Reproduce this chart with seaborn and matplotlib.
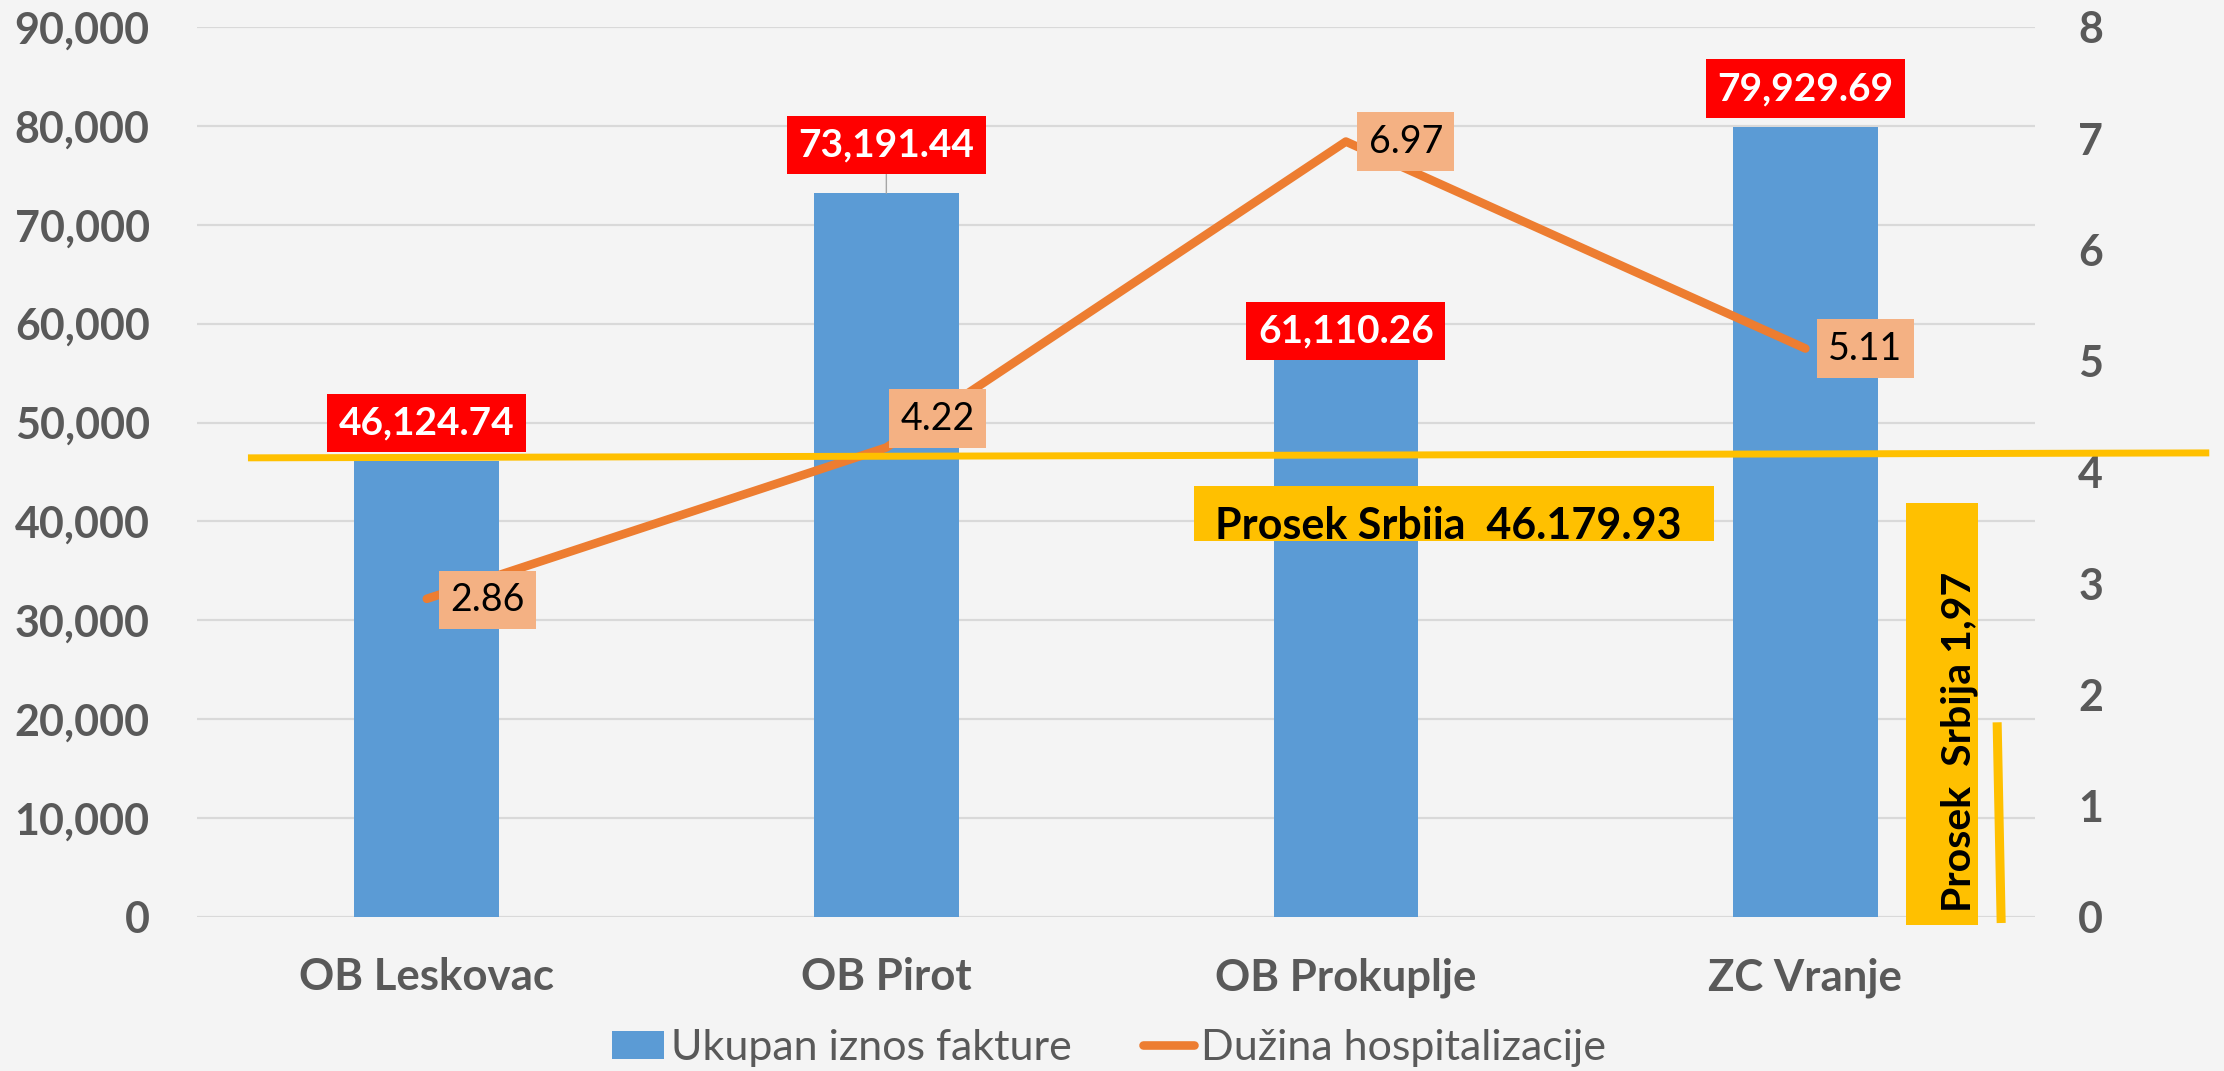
import matplotlib
matplotlib.use("Agg")
import matplotlib.pyplot as plt
import matplotlib.transforms as mtransforms
from matplotlib.patches import Rectangle, Patch
from matplotlib.lines import Line2D
from matplotlib import font_manager
import numpy as np
import pandas as pd
import seaborn as sns

# ---------------- data ----------------
categories = ["OB Leskovac", "OB Pirot", "OB Prokuplje", "ZC Vranje"]
invoice_total = [46124.74, 73191.44, 61110.26, 79929.69]
hospital_days = [2.86, 4.22, 6.97, 5.11]
serbia_avg_invoice = 46179.93
serbia_avg_invoice_text = "Prosek Srbiia  46.179.93"
serbia_avg_days_text = "Prosek  Srbija 1,97"
avg_days_marker_top = 1.75          # height of the thin yellow marker (right axis)
left_ticks = list(range(0, 90001, 10000))
right_ticks = list(range(0, 9))
series_names = ["Ukupan iznos fakture", "Dužina hospitalizacije"]

# ---------------- style ----------------
BG = "#f4f4f4"
BAR = "#5B9BD5"
ORANGE = "#ED7D31"
LIGHT_ORANGE = "#F4B183"
RED = "#FF0000"
YELLOW = "#FFC000"
GRAY = "#595959"
GRID = "#d9d9d9"
PX = 72 / 100.0   # points per pixel at dpi=100

sns.set_theme(style="white")
avail = {f.name for f in font_manager.fontManager.ttflist}
main_font = "Lato" if "Lato" in avail else "DejaVu Sans"
plt.rcParams["font.family"] = [main_font, "DejaVu Sans"]

fig = plt.figure(figsize=(22.24, 10.71), dpi=100, facecolor=BG)
ax = fig.add_axes([0.0886, 0.1438, 0.8265, 0.8310])
ax.set_facecolor(BG)

df = pd.DataFrame({"pos": np.arange(len(categories)), "cat": categories,
                   "faktura": invoice_total, "dani": hospital_days})

sns.barplot(data=df, x="pos", y="faktura", native_scale=True, width=0.315,
            color=BAR, saturation=1, errorbar=None, linewidth=0, ax=ax, zorder=2)

ax2 = ax.twinx()
sns.lineplot(data=df, x="pos", y="dani", sort=False, color=ORANGE, lw=6.2,
             solid_capstyle="round", ax=ax2, zorder=3)

ax.set_xlim(-0.5, 3.5)
ax.set_ylim(0, 90000)
ax2.set_ylim(0, 8)
ax.set_xlabel(""); ax.set_ylabel(""); ax2.set_xlabel(""); ax2.set_ylabel("")
for a in (ax, ax2):
    for s in a.spines.values():
        s.set_visible(False)

ax.set_yticks(left_ticks)
ax.set_yticklabels([f"{v:,}" for v in left_ticks], fontsize=31, fontweight="bold", color=GRAY)
ax2.set_yticks(right_ticks)
ax2.set_yticklabels([str(v) for v in right_ticks], fontsize=31, fontweight="bold", color=GRAY)
ax.set_xticks(df["pos"])
ax.set_xticklabels(categories, fontsize=31.5, fontweight="bold", color=GRAY)
ax.tick_params(axis="y", length=0, pad=34)
ax2.tick_params(axis="y", length=0, pad=31)
ax.tick_params(axis="x", length=0, pad=29)
ax.grid(axis="y", color=GRID, lw=1.6)
ax.grid(axis="x", visible=False)
ax.set_axisbelow(True)

# red value labels for the bars (offsets in pixels)
red_offsets_px = [38, 48, -18, 38]
for i, v in enumerate(invoice_total):
    kw = {}
    if i == 1:
        kw["arrowprops"] = dict(arrowstyle="-", color="#a6a6a6", lw=1.0,
                                shrinkA=0, shrinkB=0)
    ax.annotate(f"{v:,.2f}", xy=(i, v), xytext=(0, red_offsets_px[i] * PX),
                textcoords="offset points", ha="center", va="center",
                fontsize=28, fontweight="bold", color="white", zorder=6,
                bbox=dict(boxstyle="square,pad=0.3", fc=RED, ec="none"), **kw)

# orange value labels for the line
orange_offsets_px = [(61, -1), (51, 29), (60, 0), (60, 0)]
for i, d in enumerate(hospital_days):
    dx, dy = orange_offsets_px[i]
    ax2.annotate(f"{d:.2f}", xy=(i, d), xytext=(dx * PX, dy * PX),
                 textcoords="offset points", ha="center", va="center",
                 fontsize=27, color="black", zorder=7,
                 bbox=dict(boxstyle="square,pad=0.3", fc=LIGHT_ORANGE, ec="none"))

# Serbia average invoice: reference line + yellow label
tr_inv = mtransforms.blended_transform_factory(ax2.transAxes, ax.transData)
ax2.plot([0.0277, 1.0947], [serbia_avg_invoice + 250, serbia_avg_invoice + 750],
         transform=tr_inv, color=YELLOW, lw=5, clip_on=False, zorder=8,
         solid_capstyle="butt")
ax2.add_patch(Rectangle((0.5424, 0.4225), 0.2830, 0.0618, transform=ax2.transAxes,
                        fc=YELLOW, ec="none", clip_on=False, zorder=8))
ax2.text(0.5539, 0.4250, serbia_avg_invoice_text, transform=ax2.transAxes,
         ha="left", va="baseline", fontsize=31, fontweight="bold", color="black",
         zorder=9, clip_on=False)

# Serbia average hospitalization: vertical label + thin marker
tr_days = mtransforms.blended_transform_factory(ax2.transAxes, ax2.transData)
ax2.add_patch(Rectangle((0.9298, -0.009), 0.0392, 0.4742, transform=ax2.transAxes,
                        fc=YELLOW, ec="none", clip_on=False, zorder=8))
ax2.text(0.9650, 0.0056, serbia_avg_days_text, transform=ax2.transAxes,
         rotation=90, rotation_mode="anchor", ha="left", va="baseline",
         fontsize=29.5, fontweight="bold", color="black", zorder=9, clip_on=False)
ax2.plot([0.9793, 0.9815], [avg_days_marker_top, -0.054], transform=tr_days,
         color=YELLOW, lw=6.5, clip_on=False, zorder=8, solid_capstyle="butt")

# legend
handles = [Patch(fc=BAR, ec="none"), Line2D([], [], color=ORANGE, lw=6.2)]
fig.legend(handles, series_names, loc="center", bbox_to_anchor=(0.4987, 0.0215),
           ncol=2, frameon=False, fontsize=31, handlelength=1.2, handleheight=0.63,
           handletextpad=0.16, columnspacing=1.65, labelcolor=GRAY)

fig.savefig("out.png", dpi=100, facecolor=BG)
